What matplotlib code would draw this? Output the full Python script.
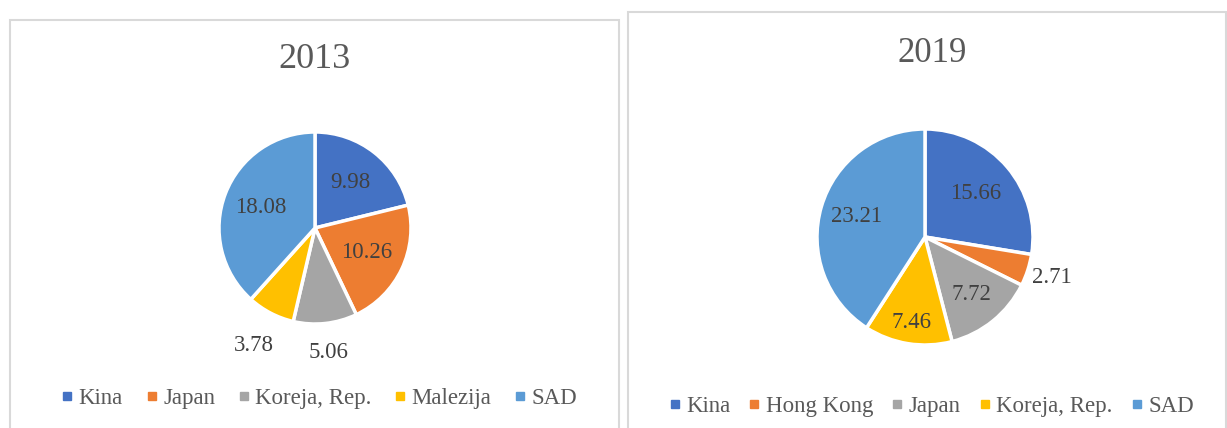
import matplotlib
matplotlib.use("Agg")
import matplotlib.pyplot as plt
from matplotlib.patches import Rectangle
from matplotlib.lines import Line2D
import numpy as np

plt.rcParams['font.family'] = ['Liberation Serif', 'DejaVu Serif']

# podaci
years = ["2013", "2019"]
labels_2013 = ["Kina", "Japan", "Koreja, Rep.", "Malezija", "SAD"]
values_2013 = [9.98, 10.26, 5.06, 3.78, 18.08]
labels_2019 = ["Kina", "Hong Kong", "Japan", "Koreja, Rep.", "SAD"]
values_2019 = [15.66, 2.71, 7.72, 7.46, 23.21]

colors = ["#4472C4", "#ED7D31", "#A5A5A5", "#FFC000", "#5B9BD5"]
text_col = "#404040"
title_col = "#595959"
border_col = "#D9D9D9"

W, H = 1227, 428
fig = plt.figure(figsize=(W / 100, H / 100), dpi=100)


def px(x, y, w, h):
    # pikseli (od gore lijevo) -> koordinate figure
    return [x / W, 1 - (y + h) / H, w / W, h / H]


# okviri panela
for (x0, y0, x1) in [(10, 20, 619), (628, 12, 1226)]:
    r = Rectangle((x0 / W, -0.05), (x1 - x0) / W, 1 - y0 / H + 0.05,
                  transform=fig.transFigure, fill=False,
                  edgecolor=border_col, linewidth=1.5)
    fig.add_artist(r)


def draw_pie(cx, cy, rad, values, lab_dist):
    S = rad * 3
    ax = fig.add_axes(px(cx - S / 2, cy - S / 2, S, S))
    wedges, _ = ax.pie(values, colors=colors, startangle=90, counterclock=False,
                       wedgeprops=dict(edgecolor="white", linewidth=2.5))
    for w, v, d in zip(wedges, values, lab_dist):
        ang = np.deg2rad((w.theta1 + w.theta2) / 2)
        ax.text(d * np.cos(ang), d * np.sin(ang), f"{v:.2f}", ha="center",
                va="center", fontsize=16.5, color=text_col)
    ax.set_xlim(-1.5, 1.5)
    ax.set_ylim(-1.5, 1.5)
    ax.set_aspect("equal")
    ax.axis("off")
    return ax


draw_pie(315, 228, 96, values_2013, [0.6, 0.6, 1.3, 1.38, 0.6])
draw_pie(925, 237, 108, values_2019, [0.62, 1.23, 0.68, 0.8, 0.66])

fig.text(314 / W, 1 - 59 / H, years[0], ha="center", va="center",
         fontsize=26, color=title_col)
fig.text(932 / W, 1 - 54 / H, years[1], ha="center", va="center",
         fontsize=25, color=title_col)


def legend(labels, cx, cy, spacing):
    handles = [Line2D([], [], marker="s", linestyle="", color=c, markersize=5.5)
               for c in colors]
    fig.legend(handles, labels, loc="center", bbox_to_anchor=(cx / W, 1 - cy / H),
               ncol=len(labels), frameon=False,
               prop={"family": "Liberation Serif", "size": 16.5},
               handlelength=0.4, handletextpad=0.3, columnspacing=spacing,
               labelcolor=title_col, borderaxespad=0)


legend(labels_2013, 320, 398, 1.05)
legend(labels_2019, 932, 406, 0.85)

fig.savefig("out.png", dpi=100)
